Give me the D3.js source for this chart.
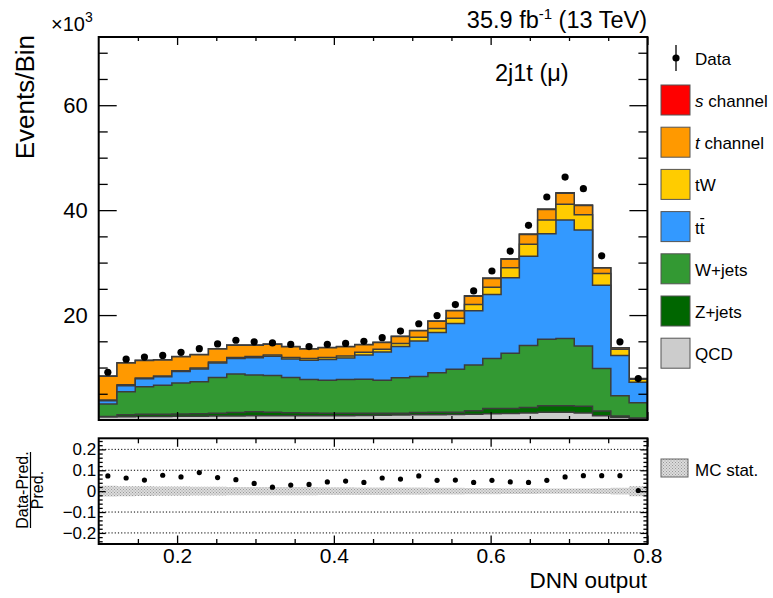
<!DOCTYPE html>
<html>
<head>
<meta charset="utf-8">
<script src="https://cdn.jsdelivr.net/npm/d3@7"></script>
<style>
body { margin: 0; background: #fff; }
text { font-family: "Liberation Sans", Arial, Helvetica, sans-serif; fill: #000; }
</style>
</head>
<body>
<div id="chart"></div>
<script>
// 30 bins of DNN output between 0.1 and 0.8, values in thousands of events
const binEdges = d3.range(31).map(i => 0.1 + i * 0.7 / 30);

const qcd   = [0.55,0.6,0.65,0.65,0.7,0.7,0.75,0.75,0.8,0.8,0.8,0.8,0.8,0.8,0.85,0.9,0.95,1.0,1.0,1.05,1.1,1.2,1.25,1.35,1.5,1.5,1.35,0.8,0.5,0.25];
const zjets = [0.1,0.4,0.45,0.45,0.45,0.5,0.55,0.7,0.75,0.7,0.6,0.55,0.5,0.5,0.45,0.37,0.35,0.45,0.46,0.45,0.68,1.0,0.95,1.05,1.2,1.2,1.25,0.9,0.26,0.15];
const wjets = [2.4,4.4,5.25,5.5,5.9,6.1,6.8,7.3,7.05,7.0,6.7,6.35,6.3,6.4,6.45,6.33,6.75,6.85,7.54,8.15,8.72,9.5,10.5,11.8,12.7,12.85,11.5,8.1,3.84,2.9];
const ttbar = [0.6,1.15,1.5,1.65,2.2,2.4,2.75,2.95,3.25,3.65,3.55,3.7,3.95,4.1,4.65,5.35,5.95,6.75,7.7,8.75,10.3,12.2,14.4,17.0,20.1,22.55,22.1,15.9,7.7,3.9];
const tw    = [0.15,0.15,0.15,0.15,0.15,0.2,0.2,0.2,0.25,0.25,0.25,0.3,0.35,0.4,0.5,0.55,0.6,0.7,0.75,1.0,1.2,1.4,1.9,2.3,2.6,3.0,2.9,2.2,1.2,0.55];
const tchan = [4.55,4.15,3.35,3.05,2.65,2.55,2.5,2.35,2.15,2.05,2.05,1.85,1.85,1.75,1.45,1.25,1.3,1.25,1.35,1.4,1.6,1.65,1.65,1.85,2.0,2.1,1.8,1.05,0.2,0.1];
const schan = [0.05,0.05,0.05,0.05,0.05,0.05,0.05,0.05,0.05,0.05,0.05,0.05,0.05,0.05,0.05,0.05,0.05,0.05,0.05,0.05,0.1,0.1,0.1,0.1,0.1,0.1,0.1,0.05,0.05,0.05];

const dataVals = [9.1,11.6,12.0,12.3,12.9,13.6,14.5,15.2,14.9,14.7,14.4,14.0,14.4,14.6,15.0,15.7,16.95,18.35,19.9,22.0,24.6,28.4,32.2,37.1,42.5,46.3,44.1,31.3,14.9,7.9];
const ratioVals = [0.073,0.063,0.053,0.076,0.068,0.089,0.065,0.055,0.037,0.019,0.029,0.032,0.044,0.048,0.042,0.063,0.058,0.073,0.052,0.053,0.042,0.052,0.044,0.042,0.052,0.068,0.074,0.074,0.074,0.003];
const mcStat = [0.026,0.024,0.023,0.022,0.022,0.021,0.021,0.02,0.02,0.02,0.02,0.02,0.019,0.019,0.018,0.018,0.017,0.017,0.016,0.016,0.015,0.015,0.014,0.014,0.013,0.013,0.013,0.014,0.016,0.024];

const yTicks = [20, 40, 60];
const xTicks = [0.2, 0.4, 0.6, 0.8];
const rTicks = [-0.2, -0.1, 0, 0.1, 0.2];

const layers = [
    {name: "QCD", vals: qcd, color: "#cccccc"},
    {name: "Z+jets", vals: zjets, color: "#006600"},
    {name: "W+jets", vals: wjets, color: "#339933"},
    {name: "ttbar", vals: ttbar, color: "#3399ff"},
    {name: "tW", vals: tw, color: "#ffcc00"},
    {name: "t channel", vals: tchan, color: "#ff9900"},
    {name: "s channel", vals: schan, color: "#ff0000"}
];

const svg = d3.select("#chart").append("svg")
    .attr("width", 773)
    .attr("height", 598);

const X0 = 98.7, X1 = 647.4;
const x = d3.scaleLinear().domain([0.1, 0.8]).range([X0, X1]);
const y = d3.scaleLinear().domain([0, 73]).range([420, 37]);
const yr = d3.scaleLinear().domain([-0.253, 0.253]).range([544, 438.3]);

const defs = svg.append("defs");
defs.append("clipPath").attr("id", "mainclip")
    .append("rect").attr("x", X0).attr("y", 37).attr("width", X1 - X0).attr("height", 383);
defs.append("clipPath").attr("id", "ratioclip")
    .append("rect").attr("x", X0).attr("y", 438.3).attr("width", X1 - X0).attr("height", 105.7);
let pat = defs.append("pattern").attr("id", "hatch")
    .attr("patternUnits", "userSpaceOnUse").attr("width", 3).attr("height", 3);
pat.append("rect").attr("width", 3).attr("height", 3).attr("fill", "#dcdcdc");
pat.append("rect").attr("width", 1).attr("height", 1).attr("fill", "#999");
pat.append("rect").attr("x", 1.5).attr("y", 1.5).attr("width", 1).attr("height", 1).attr("fill", "#999");

// cumulative stack
let cum = new Array(30).fill(0);
layers.forEach(l => {
    cum = cum.map((c, i) => c + l.vals[i]);
    l.top = cum.slice();
});

const stepPath = (tops) => {
    let p = d3.path();
    p.moveTo(x(binEdges[0]), y(0));
    tops.forEach((v, i) => {
        p.lineTo(x(binEdges[i]), y(v));
        p.lineTo(x(binEdges[i + 1]), y(v));
    });
    p.lineTo(x(binEdges[30]), y(0));
    p.closePath();
    return p.toString();
};

const main = svg.append("g").attr("clip-path", "url(#mainclip)");
layers.slice().reverse().forEach(l => {
    main.append("path")
        .attr("d", stepPath(l.top))
        .attr("fill", l.color)
        .attr("stroke", "#3c3c3c")
        .attr("stroke-width", 1.5)
        .attr("stroke-linejoin", "miter");
});

const centers = d3.range(30).map(i => (binEdges[i] + binEdges[i + 1]) / 2);

main.selectAll("circle.data")
    .data(dataVals)
    .enter()
    .append("circle")
    .attr("class", "data")
    .attr("cx", (d, i) => x(centers[i]))
    .attr("cy", d => y(d))
    .attr("r", 3.6)
    .attr("fill", "#000");

// ratio panel
const ratio = svg.append("g").attr("clip-path", "url(#ratioclip)");
const bandPath = () => {
    let p = d3.path();
    p.moveTo(x(binEdges[0]), yr(mcStat[0]));
    mcStat.forEach((e, i) => {
        p.lineTo(x(binEdges[i]), yr(e));
        p.lineTo(x(binEdges[i + 1]), yr(e));
    });
    for (let i = 29; i >= 0; i--) {
        p.lineTo(x(binEdges[i + 1]), yr(-mcStat[i]));
        p.lineTo(x(binEdges[i]), yr(-mcStat[i]));
    }
    p.closePath();
    return p.toString();
};
ratio.append("path").attr("d", bandPath()).attr("fill", "url(#hatch)");

[0.2, 0.1, -0.1, -0.2].forEach(v => {
    ratio.append("line")
        .attr("x1", X0).attr("x2", X1)
        .attr("y1", yr(v)).attr("y2", yr(v))
        .attr("stroke", "#000")
        .attr("stroke-width", 1)
        .attr("stroke-dasharray", "1.2,2");
});

ratio.selectAll("circle.r")
    .data(ratioVals)
    .enter()
    .append("circle")
    .attr("class", "r")
    .attr("cx", (d, i) => x(centers[i]))
    .attr("cy", d => yr(d))
    .attr("r", 2.6)
    .attr("fill", "#000");

// axes (ticks drawn inward, like ROOT)
const drawAxis = (gen, tx, ty, fontSize) => {
    let g = svg.append("g").attr("transform", `translate(${tx},${ty})`).call(gen);
    g.select(".domain").remove();
    g.selectAll("line").attr("stroke", "#000").attr("stroke-width", 1.3);
    g.selectAll("text")
        .attr("font-family", "Liberation Sans, Arial, sans-serif")
        .attr("font-size", fontSize)
        .attr("fill", "#000");
    return g;
};

const minorY = d3.range(0, 73, 5).filter(v => v % 20 !== 0);
const minorX = d3.range(0.15, 0.8, 0.05).filter(v => Math.abs(v * 10 % 2) > 0.01 && Math.abs(v * 10 % 2 - 2) > 0.01);

drawAxis(d3.axisLeft(y).tickValues(yTicks).tickSize(-18).tickPadding(11), X0, 0, 22);
drawAxis(d3.axisLeft(y).tickValues(minorY).tickSize(-9).tickFormat(""), X0, 0, 0);
drawAxis(d3.axisRight(y).tickValues(yTicks).tickSize(-18).tickFormat(""), X1, 0, 0);
drawAxis(d3.axisRight(y).tickValues(minorY).tickSize(-9).tickFormat(""), X1, 0, 0);
drawAxis(d3.axisTop(x).tickValues(xTicks).tickSize(-8).tickFormat(""), 0, 37, 0);
drawAxis(d3.axisTop(x).tickValues(minorX).tickSize(-4).tickFormat(""), 0, 37, 0);
drawAxis(d3.axisBottom(x).tickValues(xTicks).tickSize(-8).tickFormat(""), 0, 420, 0);
drawAxis(d3.axisBottom(x).tickValues(minorX).tickSize(-4).tickFormat(""), 0, 420, 0);

const minorR = d3.range(-0.24, 0.25, 0.02).filter(v => Math.abs(Math.round(v * 10) - v * 10) > 0.01);
drawAxis(d3.axisLeft(yr).tickValues(rTicks).tickSize(-7).tickPadding(2.5)
    .tickFormat(d => d === 0 ? "0" : d3.format(".1f")(d)), X0, 0, 17);
drawAxis(d3.axisLeft(yr).tickValues(minorR).tickSize(-4).tickFormat(""), X0, 0, 0);
drawAxis(d3.axisRight(yr).tickValues(rTicks).tickSize(-7).tickFormat(""), X1, 0, 0);
drawAxis(d3.axisRight(yr).tickValues(minorR).tickSize(-4).tickFormat(""), X1, 0, 0);
drawAxis(d3.axisTop(x).tickValues(xTicks).tickSize(-8.5).tickFormat(""), 0, 438.3, 0);
drawAxis(d3.axisTop(x).tickValues(minorX).tickSize(-5).tickFormat(""), 0, 438.3, 0);
drawAxis(d3.axisBottom(x).tickValues(xTicks).tickSize(-8.5).tickPadding(4)
    .tickFormat(d3.format(".1f")), 0, 544, 21);
drawAxis(d3.axisBottom(x).tickValues(minorX).tickSize(-5).tickFormat(""), 0, 544, 0);

// frames
svg.append("rect").attr("x", X0).attr("y", 37).attr("width", X1 - X0).attr("height", 383)
    .attr("fill", "none").attr("stroke", "#000").attr("stroke-width", 2);
svg.append("rect").attr("x", X0).attr("y", 438.3).attr("width", X1 - X0).attr("height", 105.7)
    .attr("fill", "none").attr("stroke", "#000").attr("stroke-width", 2);

// titles
svg.append("text").attr("transform", "translate(34,35) rotate(-90)")
    .attr("text-anchor", "end").attr("font-size", 26).text("Events/Bin");

let e3 = svg.append("text").attr("x", 51).attr("y", 31).attr("font-size", 20);
e3.append("tspan").text("×10");
e3.append("tspan").attr("dy", -9).attr("font-size", 14).text("3");

let lumi = svg.append("text").attr("x", 647).attr("y", 28).attr("text-anchor", "end").attr("font-size", 23.5);
lumi.append("tspan").text("35.9 fb");
lumi.append("tspan").attr("dy", -9).attr("font-size", 15).text("-1");
lumi.append("tspan").attr("dy", 9).text(" (13 TeV)");

svg.append("text").attr("x", 495).attr("y", 81).attr("font-size", 23.5).text("2j1t (μ)");

svg.append("text").attr("x", 647).attr("y", 588).attr("text-anchor", "end")
    .attr("font-size", 22.5).text("DNN output");

let rt = svg.append("g").attr("transform", "translate(0,490) rotate(-90)");
rt.append("text").attr("x", 0).attr("y", 28).attr("text-anchor", "middle").attr("font-size", 16).text("Data-Pred.");
rt.append("line").attr("x1", -38).attr("x2", 38).attr("y1", 30.5).attr("y2", 30.5).attr("stroke", "#000").attr("stroke-width", 1.2);
rt.append("text").attr("x", 0).attr("y", 43).attr("text-anchor", "middle").attr("font-size", 16).text("Pred.");

// legend
const leg = svg.append("g");
leg.append("line").attr("x1", 676).attr("x2", 676).attr("y1", 45).attr("y2", 71).attr("stroke", "#000").attr("stroke-width", 1.3);
leg.append("circle").attr("cx", 676).attr("cy", 58).attr("r", 3.6).attr("fill", "#000");
leg.append("text").attr("x", 695).attr("y", 65).attr("font-size", 17).text("Data");

const legendRows = [
    {label: ["s", " channel"], color: "#ff0000"},
    {label: ["t", " channel"], color: "#ff9900"},
    {label: ["", "tW"], color: "#ffcc00"},
    {label: ["", "tt"], color: "#3399ff", bar: true},
    {label: ["", "W+jets"], color: "#339933"},
    {label: ["", "Z+jets"], color: "#006600"},
    {label: ["", "QCD"], color: "#cccccc"}
];
legendRows.forEach((r, i) => {
    let top = 85 + i * 42.2;
    leg.append("rect").attr("x", 661).attr("y", top).attr("width", 29).attr("height", 30)
        .attr("fill", r.color).attr("stroke", "#555").attr("stroke-width", 1);
    let t = leg.append("text").attr("x", 695).attr("y", top + 22).attr("font-size", 17);
    if (r.label[0]) t.append("tspan").attr("font-style", "italic").text(r.label[0]);
    t.append("tspan").text(r.label[1]);
    if (r.bar) {
        // overline on the second t of tt
        let w = t.node().getComputedTextLength();
        leg.append("line").attr("x1", 695 + w / 2 + 0.5).attr("x2", 695 + w - 0.2)
            .attr("y1", top + 7).attr("y2", top + 7)
            .attr("stroke", "#000").attr("stroke-width", 1.2);
    }
});

leg.append("rect").attr("x", 661).attr("y", 459).attr("width", 27).attr("height", 18)
    .attr("fill", "url(#hatch)").attr("stroke", "#666").attr("stroke-width", 1);
leg.append("text").attr("x", 695).attr("y", 476).attr("font-size", 17).text("MC stat.");
</script>
</body>
</html>
